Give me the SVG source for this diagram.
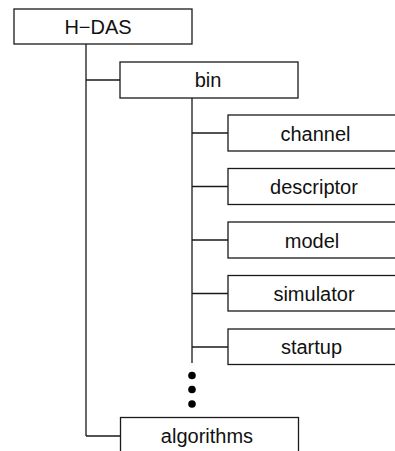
<svg xmlns="http://www.w3.org/2000/svg" width="395" height="451" viewBox="0 0 395 451">
  <style>
    .box { fill: #ffffff; stroke: #1a1a1a; stroke-width: 1.3; }
    .lbl { font-family: "Liberation Sans", Arial, sans-serif; font-size: 20px; fill: #111111; text-anchor: middle; }
    .wire { fill: none; stroke: #1a1a1a; stroke-width: 1.3; }
    .dot { fill: #000000; }
  </style>
  <rect width="395" height="451" fill="#ffffff"/>

  <!-- tree connectors -->
  <g id="connectors">
    <path class="wire" d="M86 44 V436 M86 80 H120 M86 436 H120"/>
    <path class="wire" d="M192 98 V363 M192 133 H228 M192 186.5 H228 M192 240 H228 M192 293.5 H228 M192 347 H228"/>
    <circle class="dot" cx="192" cy="375.5" r="3.8"/>
    <circle class="dot" cx="192" cy="389.5" r="3.8"/>
    <circle class="dot" cx="192" cy="404" r="3.8"/>
  </g>

  <g id="h-das">
    <rect class="box" x="14" y="9" width="178" height="35"/>
    <text class="lbl" x="98" y="34">H−DAS</text>
  </g>

  <g id="bin">
    <rect class="box" x="120" y="62" width="178" height="36"/>
    <text class="lbl" x="208" y="87">bin</text>
  </g>

  <g id="channel">
    <rect class="box" x="228" y="115" width="180" height="36"/>
    <text class="lbl" x="315.5" y="140.5">channel</text>
  </g>

  <g id="descriptor">
    <rect class="box" x="228" y="168.5" width="180" height="36"/>
    <text class="lbl" x="314" y="194">descriptor</text>
  </g>

  <g id="model">
    <rect class="box" x="228" y="222" width="180" height="36"/>
    <text class="lbl" x="312" y="247.5">model</text>
  </g>

  <g id="simulator">
    <rect class="box" x="228" y="275.5" width="180" height="35.5"/>
    <text class="lbl" x="314" y="300.5">simulator</text>
  </g>

  <g id="startup">
    <rect class="box" x="228" y="329" width="180" height="35.5"/>
    <text class="lbl" x="311.5" y="354">startup</text>
  </g>

  <g id="algorithms">
    <rect class="box" x="120.5" y="417.5" width="178" height="40"/>
    <text class="lbl" x="207" y="443">algorithms</text>
  </g>
</svg>
